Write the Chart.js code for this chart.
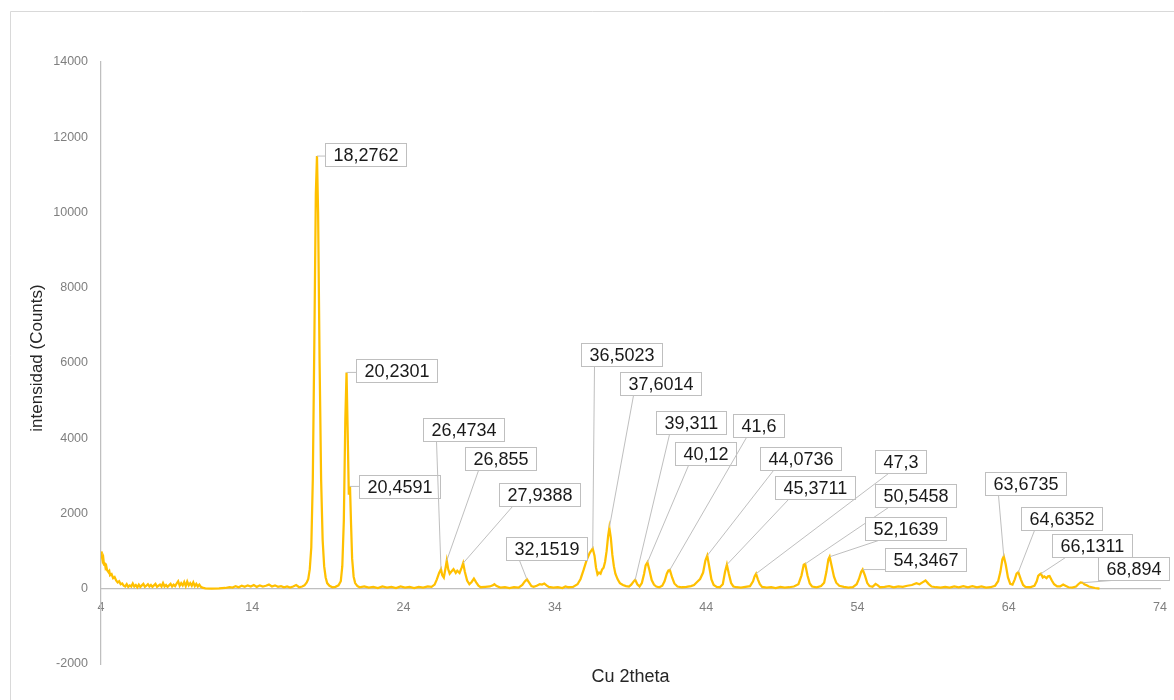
<!DOCTYPE html>
<html>
<head>
<meta charset="utf-8">
<script src="https://cdn.jsdelivr.net/npm/chart.js@4/dist/chart.umd.min.js"></script>
<style>
  body { margin: 0; background: #fff; }
  canvas { display: block; }
</style>
</head>
<body>
<canvas id="chart1" width="1174" height="700" style="width:1174px;height:700px"></canvas>
<script>
// XRD scan, Cu 2theta vs counts
var twoTheta = [
  4.00, 4.05, 4.10, 4.15, 4.20, 4.25, 4.30, 4.35, 4.40, 4.50,
  4.55, 4.60, 4.70, 4.80, 4.90, 5.00, 5.10, 5.20, 5.30, 5.40,
  5.50, 5.60, 5.70, 5.80, 5.90, 6.00, 6.10, 6.20, 6.30, 6.40,
  6.50, 6.60, 6.70, 6.80, 6.90, 7.00, 7.10, 7.20, 7.30, 7.40,
  7.50, 7.60, 7.70, 7.80, 7.90, 8.00, 8.10, 8.20, 8.30, 8.40,
  8.50, 8.60, 8.70, 8.80, 8.90, 9.00, 9.10, 9.20, 9.30, 9.40,
  9.50, 9.60, 9.70, 9.80, 9.90, 10.00, 10.10, 10.20, 10.30, 10.40,
  10.50, 10.60, 10.70, 10.90, 11.30, 11.80, 12.20, 12.50, 12.70, 12.90,
  13.10, 13.30, 13.50, 13.70, 13.90, 14.10, 14.30, 14.50, 14.70, 14.90,
  15.10, 15.30, 15.50, 15.70, 15.90, 16.10, 16.30, 16.50, 16.70, 16.90,
  17.10, 17.30, 17.45, 17.60, 17.70, 17.80, 17.90, 18.00, 18.10, 18.20,
  18.2762, 18.35, 18.45, 18.55, 18.65, 18.75, 18.85, 18.95, 19.10, 19.30,
  19.50, 19.70, 19.85, 19.95, 20.05, 20.15, 20.2301, 20.30, 20.38, 20.4591,
  20.53, 20.60, 20.70, 20.80, 20.95, 21.10, 21.40, 21.70, 22.00, 22.30,
  22.60, 22.90, 23.20, 23.50, 23.80, 24.10, 24.40, 24.70, 25.00, 25.30,
  25.60, 25.85, 26.05, 26.20, 26.35, 26.4734, 26.56, 26.66, 26.76, 26.855,
  26.95, 27.05, 27.15, 27.30, 27.45, 27.55, 27.70, 27.84, 27.9388, 28.05,
  28.20, 28.35, 28.50, 28.65, 28.80, 28.95, 29.10, 29.40, 29.70, 29.90,
  30.00, 30.15, 30.40, 30.70, 31.00, 31.30, 31.60, 31.85, 32.00, 32.1519,
  32.30, 32.45, 32.60, 32.80, 33.00, 33.15, 33.30, 33.45, 33.60, 33.90,
  34.20, 34.50, 34.70, 34.90, 35.20, 35.50, 35.70, 35.90, 36.10, 36.30,
  36.5023, 36.62, 36.72, 36.82, 36.92, 37.02, 37.12, 37.22, 37.32, 37.42,
  37.52, 37.6014, 37.70, 37.80, 37.90, 38.00, 38.15, 38.30, 38.50, 38.70,
  38.90, 39.05, 39.20, 39.311, 39.45, 39.60, 39.75, 39.90, 40.00, 40.12,
  40.25, 40.40, 40.55, 40.70, 40.90, 41.10, 41.25, 41.40, 41.50, 41.60,
  41.75, 41.90, 42.10, 42.40, 42.70, 43.00, 43.20, 43.40, 43.60, 43.80,
  43.95, 44.0736, 44.20, 44.35, 44.50, 44.70, 44.90, 45.10, 45.25, 45.3711,
  45.50, 45.65, 45.80, 46.00, 46.30, 46.60, 46.90, 47.10, 47.20, 47.30,
  47.42, 47.55, 47.70, 48.00, 48.30, 48.60, 48.90, 49.20, 49.50, 49.80,
  50.10, 50.30, 50.45, 50.5458, 50.70, 50.85, 51.00, 51.30, 51.60, 51.80,
  51.95, 52.08, 52.1639, 52.30, 52.45, 52.60, 52.80, 53.10, 53.40, 53.70,
  53.95, 54.10, 54.25, 54.3467, 54.50, 54.65, 54.80, 55.00, 55.20, 55.35,
  55.50, 55.80, 56.10, 56.40, 56.70, 57.00, 57.30, 57.60, 57.90, 58.10,
  58.30, 58.50, 58.70, 58.90, 59.20, 59.50, 59.80, 60.10, 60.40, 60.70,
  61.00, 61.30, 61.60, 61.90, 62.20, 62.50, 62.80, 63.10, 63.30, 63.45,
  63.58, 63.6735, 63.80, 63.95, 64.10, 64.25, 64.40, 64.52, 64.6352, 64.80,
  64.95, 65.10, 65.40, 65.70, 65.85, 65.95, 66.05, 66.1311, 66.25, 66.35,
  66.50, 66.60, 66.70, 66.85, 67.00, 67.20, 67.40, 67.60, 67.75, 67.95,
  68.20, 68.45, 68.60, 68.75, 68.894, 69.00, 69.15, 69.30, 69.50, 69.70,
  69.90, 70.00
];
var counts = [
  990, 880, 760, 820, 640, 690, 560, 600, 500, 440,
  470, 360, 390, 280, 310, 220, 170, 200, 120, 140,
  80, 60, 120, 50, 90, 60, 140, 60, 100, 40,
  110, 50, 90, 130, 50, 80, 120, 60, 100, 50,
  90, 130, 50, 80, 110, 60, 150, 60, 100, 50,
  90, 130, 60, 110, 70, 140, 200, 80, 150, 90,
  180, 70, 190, 90, 150, 80, 170, 70, 130, 60,
  110, 50, 30, 10, 5, 10, 20, 40, 30, 70,
  40, 80, 50, 90, 60, 100, 50, 90, 60, 80,
  110, 60, 90, 50, 70, 40, 60, 30, 60, 100,
  40, 60, 90, 170, 260, 520, 1100, 2900, 6500, 10500,
  11500, 10000, 6000, 2900, 1300, 600, 300, 150, 80, 40,
  50, 90, 200, 600, 1800, 4500, 5750, 4300, 2500, 2720,
  1700, 800, 320, 150, 70, 40, 60, 30, 50, 20,
  60, 30, 50, 20, 60, 30, 50, 20, 50, 30,
  60, 50, 110, 250, 420, 520, 360, 300, 520, 750,
  520, 400, 450, 520, 420, 480, 420, 560, 680, 450,
  220, 120, 180, 270, 170, 80, 40, 50, 60, 90,
  120, 70, 30, 40, 20, 40, 30, 100, 190, 250,
  160, 70, 50, 80, 120, 110, 140, 90, 50, 30,
  40, 20, 60, 40, 50, 120, 260, 500, 760, 950,
  1070, 880, 560, 380, 430, 400, 510, 560, 720, 1000,
  1400, 1620, 1350, 900, 600, 400, 250, 150, 100, 70,
  60, 110, 190, 240, 120, 60, 150, 400, 620, 700,
  500, 230, 110, 60, 40, 80, 200, 400, 480, 500,
  300, 140, 60, 40, 50, 70, 100, 180, 260, 430,
  750, 880, 600, 250, 100, 50, 40, 120, 450, 640,
  400, 150, 60, 40, 30, 50, 70, 200, 330, 400,
  250, 120, 50, 30, 40, 20, 50, 30, 40, 60,
  120, 350, 640, 660, 350, 140, 60, 40, 70, 160,
  450, 780, 850, 600, 320, 160, 80, 50, 30, 40,
  120, 260, 450, 510, 350, 150, 70, 50, 130, 90,
  40, 50, 70, 40, 60, 50, 80, 100, 150, 120,
  170, 220, 130, 60, 40, 30, 50, 30, 60, 40,
  70, 40, 70, 40, 60, 30, 40, 80, 200, 450,
  780, 860, 650, 300, 130, 110, 250, 400, 440, 250,
  100, 50, 40, 80, 200, 340, 380, 400, 300, 330,
  280, 330, 340, 220, 120, 60, 60, 110, 80, 40,
  30, 60, 120, 170, 160, 120, 90, 60, 40, 20,
  10, 5
];

// labelled peaks
var peakTheta = [18.2762, 20.2301, 20.4591, 26.4734, 26.855, 27.9388, 32.1519, 36.5023, 37.6014, 39.311, 40.12,
                 41.6, 44.0736, 45.3711, 47.3, 50.5458, 52.1639, 54.3467, 63.6735, 64.6352, 66.1311, 68.894];
var peakLabels = ['18,2762', '20,2301', '20,4591', '26,4734', '26,855', '27,9388', '32,1519', '36,5023', '37,6014', '39,311', '40,12',
                  '41,6', '44,0736', '45,3711', '47,3', '50,5458', '52,1639', '54,3467', '63,6735', '64,6352', '66,1311', '68,894'];

var xTickValues = [4, 14, 24, 34, 44, 54, 64, 74];
var yTickValues = [-2000, 0, 2000, 4000, 6000, 8000, 10000, 12000, 14000];

// where each label box sits (top-left corner, in axis units)
var boxAt = [
  [18.80, 11840], [20.85, 6107], [21.05, 3013], [25.28, 4533], [28.06, 3760], [30.31, 2800], [30.77, 1387],
  [35.73, 6533], [38.30, 5760], [40.68, 4720], [41.94, 3893], [45.77, 4640], [47.56, 3760], [48.55, 2987],
  [55.16, 3680], [55.16, 2773], [54.50, 1920], [55.82, 1093], [62.43, 3093], [64.81, 2160], [66.85, 1450], [69.90, 850]
];

var points = twoTheta.map(function(t, i) { return {x: t, y: counts[i]}; });

var GREY = '#bfbfbf';
var FONT = '"Liberation Sans", Arial, sans-serif';

const frameAndTitles = {
  id: 'frameAndTitles',
  beforeDraw(chart) {
    const c = chart.ctx;
    c.save();
    c.fillStyle = '#fff';
    c.fillRect(0, 0, chart.width, chart.height);
    c.strokeStyle = '#d9d9d9';
    c.lineWidth = 1;
    c.beginPath();
    c.moveTo(10.5, chart.height);
    c.lineTo(10.5, 11.5);
    c.lineTo(chart.width, 11.5);
    c.stroke();
    c.restore();
  },
  afterDraw(chart) {
    const c = chart.ctx;
    const a = chart.chartArea;
    c.save();
    c.fillStyle = '#262626';
    c.textAlign = 'center';
    c.textBaseline = 'middle';
    c.font = '18px ' + FONT;
    c.fillText('Cu 2theta', (a.left + a.right) / 2, a.bottom + 13);
    c.translate(37, (a.top + a.bottom) / 2 - 5);
    c.rotate(-Math.PI / 2);
    c.font = '17px ' + FONT;
    c.fillText('intensidad (Counts)', 0, 0);
    c.restore();
  }
};

const peakCallouts = {
  id: 'peakCallouts',
  afterDatasetsDraw(chart) {
    const c = chart.ctx;
    const xs = chart.scales.x, ys = chart.scales.y;
    const meta = chart.getDatasetMeta(0);
    c.save();
    c.font = '18px ' + FONT;
    c.textBaseline = 'middle';
    c.textAlign = 'left';
    peakLabels.forEach(function(lab, i) {
      const idx = twoTheta.indexOf(peakTheta[i]);
      const px = meta.data[idx].x, py = meta.data[idx].y;
      const left = Math.round(xs.getPixelForValue(boxAt[i][0])) + 0.5;
      const top = Math.round(ys.getPixelForValue(boxAt[i][1])) + 0.5;
      const w = Math.round(c.measureText(lab).width + 16);
      const h = 23;
      // leader line
      c.strokeStyle = GREY;
      c.lineWidth = 1;
      c.beginPath();
      c.moveTo(px, py);
      if (py >= top && py <= top + h) {
        c.lineTo(left, py);
      } else {
        c.lineTo(left + 13, top + h);
      }
      c.stroke();
      // box
      c.fillStyle = '#fff';
      c.fillRect(left, top, w, h);
      c.strokeRect(left, top, w, h);
      c.fillStyle = '#1a1a1a';
      c.fillText(lab, left + 8, top + h / 2 + 1);
    });
    c.restore();
  }
};

const chartContext = document.getElementById('chart1').getContext('2d');
new Chart(chartContext, {
  type: 'scatter',
  data: {
    datasets: [{
      data: points,
      showLine: true,
      borderColor: '#ffc000',
      borderWidth: 2.25,
      pointRadius: 0,
      tension: 0,
      fill: false
    }]
  },
  options: {
    responsive: false,
    animation: false,
    layout: { padding: { top: 62, right: 14, bottom: 36, left: 0 } },
    plugins: {
      legend: { display: false },
      tooltip: { enabled: false }
    },
    scales: {
      x: {
        type: 'linear',
        min: 4,
        max: 74,
        position: { y: 0 },
        afterBuildTicks: function(s) { s.ticks = xTickValues.map(function(v) { return {value: v}; }); },
        afterFit: function(s) { s.paddingLeft = 0; s.paddingRight = 0; },
        grid: { display: false, drawTicks: false },
        border: { color: GREY, width: 1.25 },
        ticks: {
          padding: 11,
          color: '#7f7f7f',
          font: { family: FONT, size: 12.5 },
          maxRotation: 0,
          callback: function(v) { return String(v); }
        }
      },
      y: {
        type: 'linear',
        min: -2000,
        max: 14000,
        afterBuildTicks: function(s) { s.ticks = yTickValues.map(function(v) { return {value: v}; }); },
        afterFit: function(s) { s.width = 101; s.paddingTop = 0; s.paddingBottom = 0; },
        grid: { display: false, drawTicks: false },
        border: { color: GREY, width: 1.25 },
        ticks: {
          padding: 13,
          color: '#7f7f7f',
          font: { family: FONT, size: 12.5 },
          callback: function(v) { return String(v); }
        }
      }
    }
  },
  plugins: [frameAndTitles, peakCallouts]
});
</script>
</body>
</html>
